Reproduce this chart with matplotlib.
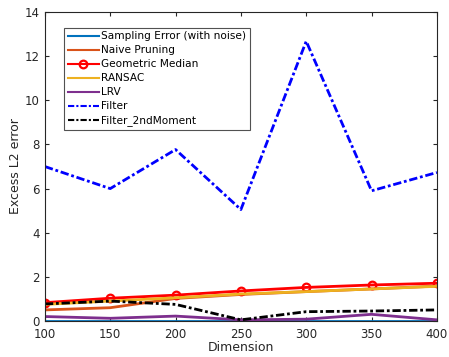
import numpy as np
import matplotlib
matplotlib.use('Agg')
from matplotlib import pyplot as plt

dims = [100, 150, 200, 250, 300, 350, 400]
sampling = [0.02, 0.02, 0.02, 0.02, 0.02, 0.02, 0.02]
naive = [0.5, 0.6, 1.02, 1.2, 1.33, 1.45, 1.58]
geomed = [0.83, 1.03, 1.17, 1.36, 1.52, 1.63, 1.71]
ransac = [0.75, 0.9, 1.05, 1.22, 1.33, 1.45, 1.57]
lrv = [0.2, 0.12, 0.22, 0.05, 0.08, 0.3, 0.05]
filt = [7.0, 6.0, 7.77, 5.05, 12.68, 5.9, 6.73]
filt2 = [0.77, 0.9, 0.75, 0.05, 0.42, 0.45, 0.5]

fig = plt.figure(figsize=(4.49, 3.57), dpi=100)
ax = fig.add_axes([0.1, 0.101, 0.873, 0.865])

lw = 2
dashdot = (0, (3, 1, 1, 1))
ax.plot(dims, sampling, color=(0, 0.447, 0.741), lw=lw, label='Sampling Error (with noise)')
ax.plot(dims, naive, color=(0.85, 0.325, 0.098), lw=lw, label='Naive Pruning')
ax.plot(dims, geomed, color='red', lw=lw, marker='o', markersize=5.5, markerfacecolor='none',
        markeredgewidth=1.6, label='Geometric Median')
ax.plot(dims, ransac, color=(0.929, 0.694, 0.125), lw=lw, label='RANSAC')
ax.plot(dims, lrv, color=(0.494, 0.184, 0.556), lw=lw, label='LRV')
ax.plot(dims, filt, color='blue', lw=lw, ls=dashdot, label='Filter')
ax.plot(dims, filt2, color='black', lw=lw, ls=dashdot, label='Filter_2ndMoment')

ax.set_xlim(100, 400)
ax.set_ylim(0, 14)
ax.set_xticks(dims)
ax.set_yticks(range(0, 15, 2))
ax.tick_params(direction='in', labelsize=8.5, colors='#262626', top=True, right=True, length=3)
ax.tick_params(axis='x', pad=5)
for s in ax.spines.values():
    s.set_color('#262626')
    s.set_linewidth(0.8)
ax.set_xlabel('Dimension', fontsize=9, color='#262626', labelpad=0)
ax.set_ylabel('Excess L2 error', fontsize=9, color='#262626', labelpad=2)

leg = ax.legend(loc='upper left', bbox_to_anchor=(0.05, 0.948), fontsize=7.6, frameon=True,
                fancybox=False, edgecolor='#262626', handlelength=3.0, handletextpad=0.2,
                labelspacing=0.38, borderpad=0.3, borderaxespad=0)
leg.get_frame().set_linewidth(0.8)
for line in leg.get_lines():
    line.set_linewidth(1.5)

fig.savefig('out.png', dpi=100)
